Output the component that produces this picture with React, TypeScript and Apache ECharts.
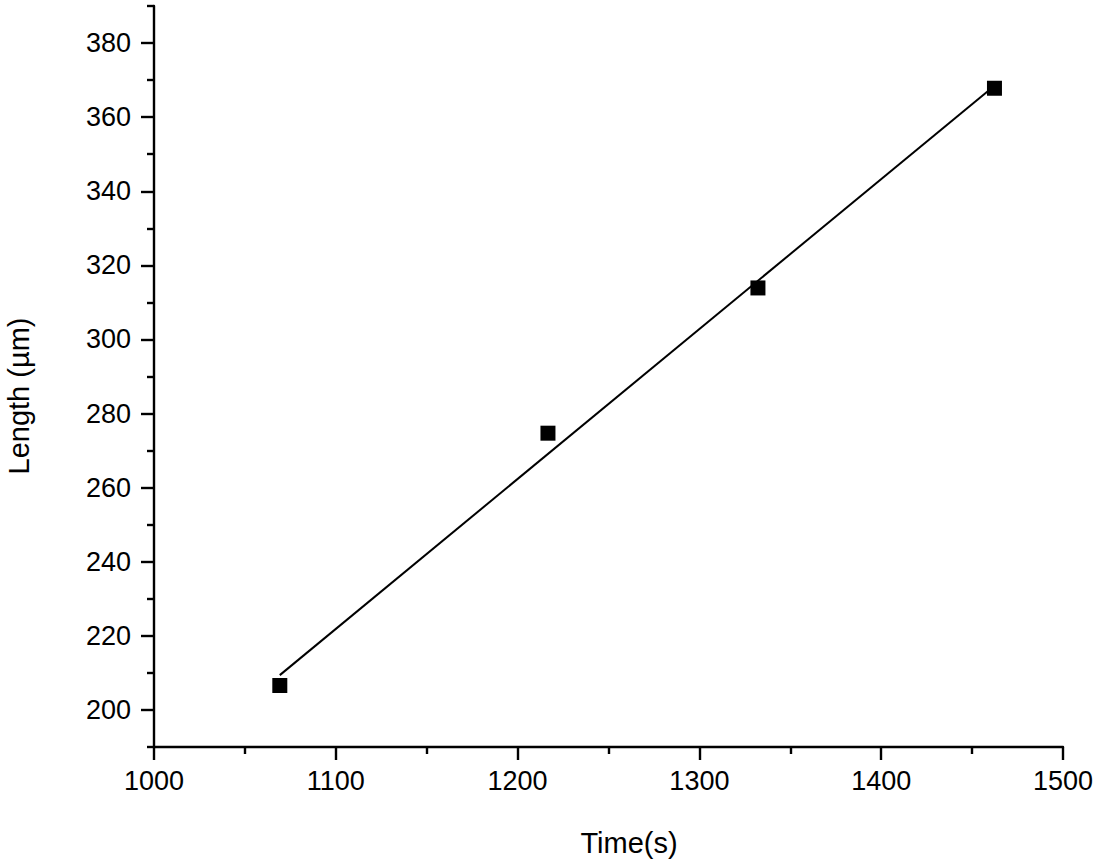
import React, { useEffect, useRef } from "react";
import * as echarts from "echarts";

const timeValues = [1069.2, 1216.7, 1332.2, 1462.3];
const lengthValues = [206.6, 274.7, 313.9, 367.8];
const fitX = [1069.2, 1462.3];
const fitY = [209.4, 368.5];
const yMajorTicks = [200, 220, 240, 260, 280, 300, 320, 340, 360, 380];
const yMinorTicks = [190, 210, 230, 250, 270, 290, 310, 330, 350, 370, 390];
const xTitle = "Time(s)";
const yTitle = "Length (µm)";

const FONT = "'Liberation Sans', Arial, sans-serif";

export default function App() {
  const ref = useRef<HTMLDivElement>(null);
  useEffect(() => {
    if (!ref.current) return;
    const chart = echarts.init(ref.current, undefined, { renderer: "svg" });
    const axisLine = { show: true, lineStyle: { color: "#000", width: 2.4 } };
    const tickStyle = { color: "#000", width: 2.4 };
    chart.setOption({
      animation: false,
      backgroundColor: "#fff",
      grid: { left: 154, right: 34, top: 6, bottom: 115 },
      xAxis: {
        type: "value",
        min: 1000,
        max: 1500,
        interval: 100,
        axisLine: { ...axisLine, onZero: false },
        axisTick: { show: true, inside: false, length: 13, lineStyle: tickStyle },
        minorTick: { show: true, splitNumber: 2, length: 7, lineStyle: tickStyle },
        splitLine: { show: false },
        axisLabel: {
          color: "#000",
          fontSize: 27,
          fontFamily: FONT,
          margin: 20,
          formatter: (v: number) => String(v),
        },
      },
      yAxis: [
        {
          type: "value",
          min: 190,
          max: 390,
          position: "left",
          axisLine: { ...axisLine, onZero: false },
          axisTick: {
            show: true,
            length: 13,
            customValues: yMajorTicks,
            lineStyle: tickStyle,
          },
          splitLine: { show: false },
          axisLabel: {
            color: "#000",
            fontSize: 27,
            fontFamily: FONT,
            margin: 23,
            customValues: yMajorTicks,
            formatter: (v: number) => String(v),
          },
        },
        {
          type: "value",
          min: 190,
          max: 390,
          position: "left",
          offset: 0,
          axisLine: { show: false, onZero: false },
          axisTick: {
            show: true,
            length: 7,
            customValues: yMinorTicks,
            lineStyle: tickStyle,
          },
          splitLine: { show: false },
          axisLabel: { show: false },
        },
      ],
      graphic: [
        {
          type: "text",
          x: 629,
          y: 843,
          style: {
            text: xTitle,
            fontSize: 29,
            fontFamily: FONT,
            fill: "#000",
            align: "center",
            verticalAlign: "middle",
          },
        },
        {
          type: "text",
          x: 19,
          y: 396,
          rotation: Math.PI / 2,
          style: {
            text: yTitle,
            fontSize: 29,
            fontFamily: FONT,
            fill: "#000",
            align: "center",
            verticalAlign: "middle",
          },
        },
      ],
      series: [
        {
          type: "line",
          data: fitX.map((x, i) => [x, fitY[i]]),
          symbol: "none",
          lineStyle: { color: "#000", width: 2 },
          z: 2,
        },
        {
          type: "scatter",
          data: timeValues.map((x, i) => [x, lengthValues[i]]),
          symbol: "rect",
          symbolSize: 15,
          itemStyle: { color: "#000", opacity: 1 },
          z: 3,
        },
      ],
    });
    return () => chart.dispose();
  }, []);
  return (
    <div
      ref={ref}
      style={{ position: "fixed", left: 0, top: 0, width: 1097, height: 862, background: "#fff" }}
    />
  );
}
